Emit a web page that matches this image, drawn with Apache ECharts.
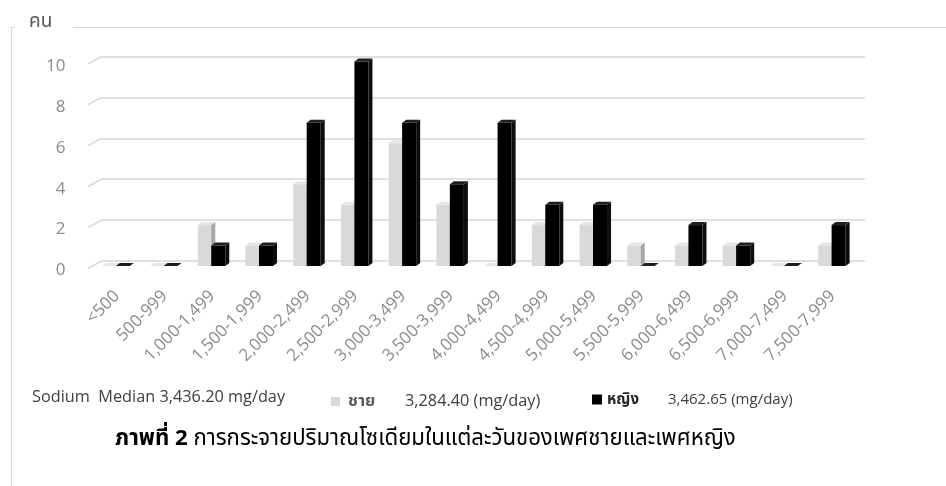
<!DOCTYPE html>
<html>
<head>
<meta charset="utf-8">
<script src="https://cdn.jsdelivr.net/npm/echarts@6/dist/echarts.min.js"></script>
<style>html,body{margin:0;padding:0;background:#fff;}#chart{width:946px;height:486px;}</style>
</head>
<body>
<div id="chart"></div>
<script>
const categories = ['<500','500-999','1,000-1,499','1,500-1,999','2,000-2,499','2,500-2,999','3,000-3,499','3,500-3,999','4,000-4,499','4,500-4,999','5,000-5,499','5,500-5,999','6,000-6,499','6,500-6,999','7,000-7,499','7,500-7,999'];
const maleCounts   = [0,0,2,1,4,3,6,3,0,2,2,1,1,1,0,1];
const femaleCounts = [0,0,1,1,7,10,7,4,7,3,3,0,2,1,0,2];
const yTicks = [0,2,4,6,8,10];
const seriesNames = ['ชาย','หญิง'];
const overallMedian = '3,436.20';
const maleMedian = '3,284.40';
const femaleMedian = '3,462.65';
const yUnit = 'คน';
const captionBold = 'ภาพที่ 2';
const captionText = ' การกระจายปริมาณโซเดียมในแต่ละวันของเพศชายและเพศหญิง';

const FONT = "'Open Sans', 'Noto Sans', 'Noto Sans Thai', sans-serif";

function barRenderer(lo, hi, cFront, cSide, cTop) {
  return function (params, api) {
    const idx = api.value(0), v = api.value(1);
    const top = api.coord([idx, v]);
    const base = api.coord([idx, 0]);
    const bw = api.size([1, 0])[0];
    const c = top[0];
    const x1 = c + lo * bw, x2 = c + hi * bw;
    const fy = 5, dx = 4, dy = -3;
    const yT = top[1] + fy, yB = base[1] + fy;
    const children = [];
    if (yB - yT > 0.5) {
      children.push({type: 'rect', shape: {x: x1, y: yT, width: x2 - x1, height: yB - yT}, style: {fill: cFront}});
      children.push({type: 'polygon', shape: {points: [[x2, yT], [x2, yB], [x2 + dx, yB + dy], [x2 + dx, yT + dy]]}, style: {fill: cSide}});
    }
    children.push({type: 'polygon', shape: {points: [[x1, yT], [x2, yT], [x2 + dx, yT + dy], [x1 + dx, yT + dy]]}, style: {fill: cTop}});
    return {type: 'group', children: children};
  };
}

function gridDiagRenderer(params, api) {
  const p = api.coord([0, api.value(1)]);
  const x0 = params.coordSys.x;
  return {type: 'line', shape: {x1: x0, y1: p[1], x2: x0 - 13.4, y2: p[1] + 7.3}, style: {stroke: '#d6d6d6', lineWidth: 1.5}};
}

const chart = echarts.init(document.getElementById('chart'), null, {renderer: 'canvas'});
chart.setOption({
  backgroundColor: '#fff',
  animation: false,
  graphic: [{
    type: 'rect', z: 0,
    shape: {x: 11.5, y: 27.5, width: 1200, height: 800},
    style: {fill: 'none', stroke: '#d9d9d9', lineWidth: 1.2}
  }],
  title: [
    {text: yUnit, left: 15, top: 8, z: 10, backgroundColor: '#fff', padding: [3, 21, 4, 14],
     textStyle: {fontSize: 19, lineHeight: 22, color: '#595959', fontWeight: 'normal', fontFamily: FONT}},
    {text: 'Sodium  Median ' + overallMedian + ' mg/day', left: 32, top: 389, padding: 0,
     textStyle: {fontSize: 16.3, color: '#404040', fontWeight: 'normal', fontFamily: FONT}},
    {text: '{b|' + captionBold + '}{r|' + captionText + '}', left: 115, top: 428, padding: 0,
     textStyle: {rich: {
       b: {fontSize: 22.2, fontWeight: 'bold', color: '#000', fontFamily: FONT},
       r: {fontSize: 22.2, fontWeight: 'normal', color: '#000', fontFamily: FONT}
     }}}
  ],
  legend: [
    {data: [seriesNames[0]], left: 331, top: 393, icon: 'rect', itemWidth: 9, itemHeight: 9, padding: 0,
     formatter: n => '{n|' + n + '}{v|' + maleMedian + ' (mg/day)}',
     textStyle: {rich: {
       n: {fontSize: 16.5, fontWeight: 'bold', color: '#595959', width: 57, padding: [0, 0, 0, 3], fontFamily: FONT},
       v: {fontSize: 16.3, color: '#404040', fontFamily: FONT}
     }}},
    {data: [seriesNames[1]], left: 592, top: 392, icon: 'rect', itemWidth: 10, itemHeight: 10, padding: 0,
     formatter: n => '{n|' + n + '}{v|' + femaleMedian + ' (mg/day)}',
     textStyle: {rich: {
       n: {fontSize: 15, fontWeight: 'bold', color: '#262626', width: 61, fontFamily: FONT},
       v: {fontSize: 15, color: '#404040', fontFamily: FONT}
     }}}
  ],
  grid: {left: 101.5, right: 81, top: 56.5, bottom: 225, containLabel: false},
  xAxis: {
    type: 'category', data: categories,
    axisLine: {show: false}, axisTick: {show: false}, splitLine: {show: false},
    axisLabel: {interval: 0, rotate: 45, margin: 24, padding: [0, 12, 0, 0], color: '#8c8c8c', fontSize: 17, fontFamily: FONT}
  },
  yAxis: {
    type: 'value', min: 0, max: 10, interval: 2,
    axisLine: {show: false}, axisTick: {show: false},
    splitLine: {show: true, lineStyle: {color: '#d6d6d6', width: 1.5}},
    axisLabel: {margin: 36, verticalAlign: 'top', padding: [1, 0, 0, 0], color: '#8c8c8c', fontSize: 17, fontFamily: FONT}
  },
  series: [
    {type: 'custom', name: 'grid-diag', silent: true, z: 1,
     data: yTicks.map(t => [0, t]), renderItem: gridDiagRenderer},
    {type: 'custom', name: seriesNames[0], z: 2, itemStyle: {color: '#d9d9d9'},
     data: maleCounts.map((v, i) => [i, v]),
     renderItem: barRenderer(-0.482, -0.2, '#d9d9d9', '#a6a6a6', '#e6e6e6')},
    {type: 'custom', name: seriesNames[1], z: 3, itemStyle: {color: '#000'},
     data: femaleCounts.map((v, i) => [i, v]),
     renderItem: barRenderer(-0.2, 0.094, '#000000', '#0d0d0d', '#1f1f1f')}
  ]
});
</script>
</body>
</html>
